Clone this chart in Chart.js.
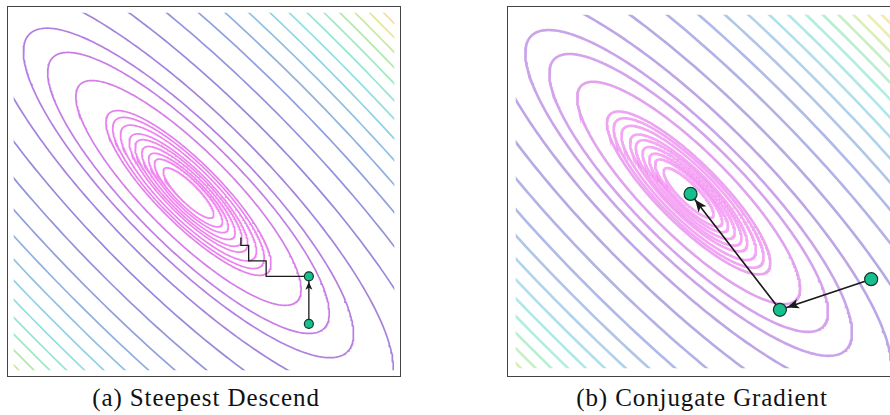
<!DOCTYPE html>
<html>
<head>
<meta charset="utf-8">
<script src="https://cdn.jsdelivr.net/npm/chart.js@4.4.0/dist/chart.umd.min.js"></script>
<style>
  html, body { margin: 0; padding: 0; background: #fff; overflow: hidden; width: 890px; height: 415px; }
  .panel { position: absolute; top: 6px; width: 392px; height: 369px; border: 1px solid #444; }
  .panel canvas { display: block; }
  #panelA { left: 7px; }
  #panelB { left: 507px; }
  #chartB { filter: blur(0.5px); }
  .caption { position: absolute; top: 385px; font-family: "Liberation Serif", serif; font-size: 25px;
             line-height: 25px; letter-spacing: 0.9px; color: #111; white-space: nowrap; transform: translateX(-50%); }
</style>
</head>
<body>
<div class="panel" id="panelA"><canvas id="chartA" width="392" height="369"></canvas></div>
<div class="panel" id="panelB"><canvas id="chartB" width="392" height="369"></canvas></div>
<div class="caption" style="left:206px">(a) Steepest Descend</div>
<div class="caption" style="left:702px">(b) Conjugate Gradient</div>
<script>
// Contour levels: horizontal half-width of each ring (data units), inner -> outer
const contourLevels = [0.26, 0.35, 0.41, 0.48, 0.55, 0.61, 0.70, 0.78, 0.85, 1.16, 1.45, 1.70,
                       2.11, 2.66, 3.24, 3.78, 4.25, 4.68, 5.07, 5.43, 5.77, 6.09, 6.39, 6.68,
                       6.96, 7.23, 7.49, 7.74];
const contourColors = ['#f07cf0', '#f07cf0', '#f07cf0', '#f07cf0', '#ee7cee', '#ee7cee', '#ec7aee', '#ea7aee',
                       '#e276ec', '#d274e6', '#c074e2', '#ae76de', '#9c7ada', '#8c82d8', '#8a8cda', '#8898dc',
                       '#88aade', '#88bde2', '#88cfe4', '#88dde0', '#8ce4d0', '#98e6bc', '#ace6a4', '#c8e696',
                       '#e2e48e', '#f0da96', '#f0c8b0', '#f0c0c0'];
// quadratic bowl: centre, tilt of the long axis (deg), long/short axis ratio
const bowlCenter = [0, 0];
const bowlAngle = -45;
const bowlRatio = 3.6;

// (a) steepest descent path
const steepestX = [1.24, 1.24, 0.80, 0.80, 0.62, 0.62, 0.54, 0.54];
const steepestY = [-1.35, -0.86, -0.86, -0.70, -0.70, -0.54, -0.54, -0.46];
const steepestDots = [0, 1];
// (b) conjugate gradient path
const conjugateX = [1.90, 0.95, 0.02];
const conjugateY = [-0.90, -1.22, -0.01];
const conjugateDots = [0, 1, 2];

const xRange = [-1.80, 2.12];
const yRange = [-1.83, 1.86];

function ringPoints(level) {
  const r = bowlRatio;
  const b = level / Math.sqrt((r * r + 1) / 2);
  const a = r * b;
  const phi = bowlAngle * Math.PI / 180;
  const pts = [];
  for (let i = 0; i <= 360; i++) {
    const t = i * Math.PI / 180;
    pts.push({
      x: bowlCenter[0] + a * Math.cos(t) * Math.cos(phi) - b * Math.sin(t) * Math.sin(phi),
      y: bowlCenter[1] + a * Math.cos(t) * Math.sin(phi) + b * Math.sin(t) * Math.cos(phi)
    });
  }
  return pts;
}

// draws arrow heads at the end of chosen segments of a path dataset
const arrowHeads = {
  id: 'arrowHeads',
  afterDatasetDraw(chart, args) {
    const ds = chart.data.datasets[args.index];
    if (!ds.arrowSegments) return;
    const pts = args.meta.data;
    const ctx = chart.ctx;
    ctx.save();
    ctx.fillStyle = ds.borderColor;
    ds.arrowSegments.forEach(i => {
      const p = pts[i], q = pts[i + 1];
      const ang = Math.atan2(q.y - p.y, q.x - p.x);
      const c = Math.cos(ang), s = Math.sin(ang);
      const tx = q.x - c * ds.arrowInset, ty = q.y - s * ds.arrowInset;
      const L = ds.arrowLength, W = ds.arrowWidth / 2;
      ctx.beginPath();
      ctx.moveTo(tx, ty);
      ctx.lineTo(tx - c * L - s * W, ty - s * L + c * W);
      ctx.lineTo(tx - c * L * 0.75, ty - s * L * 0.75);
      ctx.lineTo(tx - c * L + s * W, ty - s * L - c * W);
      ctx.closePath();
      ctx.fill();
    });
    ctx.restore();
  }
};

function makeChart(id, style) {
  const datasets = contourLevels.map((lv, k) => ({
    data: ringPoints(lv),
    showLine: true,
    borderColor: contourColors[k] + style.ringAlpha,
    borderWidth: style.ringWidth,
    pointRadius: 0,
    order: 10
  }));
  const path = style.pathX.map((x, i) => ({ x: x, y: style.pathY[i] }));
  datasets.push({
    data: path,
    showLine: true,
    borderColor: '#1a1a1a',
    borderWidth: style.pathWidth,
    pointRadius: 0,
    order: 2,
    arrowSegments: style.arrows,
    arrowInset: style.dotRadius + 1,
    arrowLength: style.arrowLength,
    arrowWidth: style.arrowWidth
  });
  datasets.push({
    data: style.dots.map(i => path[i]),
    showLine: false,
    pointRadius: style.dotRadius,
    pointBackgroundColor: '#14c08c',
    pointBorderColor: '#17332b',
    pointBorderWidth: 1.2,
    order: 1
  });
  return new Chart(document.getElementById(id), {
    type: 'scatter',
    data: { datasets: datasets },
    options: {
      responsive: false,
      animation: false,
      events: [],
      layout: { padding: 0 },
      plugins: { legend: { display: false }, tooltip: { enabled: false } },
      elements: { line: { tension: 0 } },
      scales: {
        x: { type: 'linear', min: xRange[0], max: xRange[1], display: false },
        y: { type: 'linear', min: yRange[0], max: yRange[1], display: false }
      }
    },
    plugins: [arrowHeads]
  });
}

makeChart('chartA', {
  ringWidth: 1.7, ringAlpha: 'ee', pathX: steepestX, pathY: steepestY, dots: steepestDots, arrows: [0],
  pathWidth: 1.3, dotRadius: 4.5, arrowLength: 8, arrowWidth: 7
});
makeChart('chartB', {
  ringWidth: 2.6, ringAlpha: 'aa', pathX: conjugateX, pathY: conjugateY, dots: conjugateDots, arrows: [0, 1],
  pathWidth: 1.6, dotRadius: 6.5, arrowLength: 12, arrowWidth: 10
});
</script>
</body>
</html>
